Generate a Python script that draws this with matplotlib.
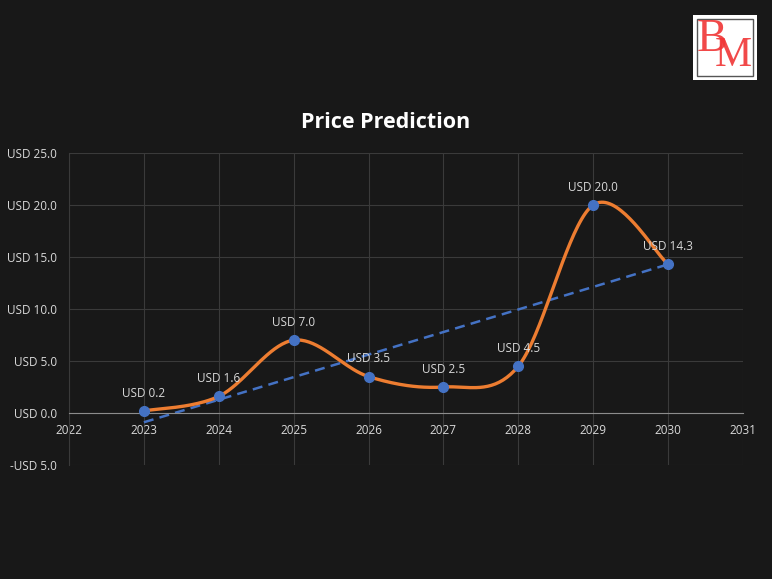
import numpy as np
import matplotlib
matplotlib.use('Agg')
from matplotlib import pyplot as plt
from matplotlib.patches import Rectangle

# chart data
years = [2023, 2024, 2025, 2026, 2027, 2028, 2029, 2030]
prices = [0.2, 1.6, 7.0, 3.5, 2.5, 4.5, 20.0, 14.3]
labels = ['USD 0.2', 'USD 1.6', 'USD 7.0', 'USD 3.5', 'USD 2.5', 'USD 4.5', 'USD 20.0', 'USD 14.3']
y_ticks = [-5, 0, 5, 10, 15, 20, 25]
x_ticks = list(range(2022, 2032))

bg = '#181818'
txt = '#d9d9d9'
plt.rcParams['font.family'] = ['Open Sans', 'DejaVu Sans']


def smooth(xs, ys, n=40):
    # excel-like smoothed line: bezier segments with catmull-rom tangents
    xs = np.asarray(xs, float)
    ys = np.asarray(ys, float)
    px, py = [], []
    for i in range(len(xs) - 1):
        p0 = (xs[max(i - 1, 0)], ys[max(i - 1, 0)])
        p1 = (xs[i], ys[i])
        p2 = (xs[i + 1], ys[i + 1])
        p3 = (xs[min(i + 2, len(xs) - 1)], ys[min(i + 2, len(xs) - 1)])
        c1 = (p1[0] + (p2[0] - p0[0]) / 6, p1[1] + (p2[1] - p0[1]) / 6)
        c2 = (p2[0] - (p3[0] - p1[0]) / 6, p2[1] - (p3[1] - p1[1]) / 6)
        t = np.linspace(0, 1, n)
        for a, b, c, d, out in [(p1[0], c1[0], c2[0], p2[0], px), (p1[1], c1[1], c2[1], p2[1], py)]:
            out.extend((1 - t) ** 3 * a + 3 * (1 - t) ** 2 * t * b + 3 * (1 - t) * t ** 2 * c + t ** 3 * d)
    return px, py


fig = plt.figure(figsize=(7.72, 5.79), dpi=100, facecolor=bg)
ax = fig.add_axes([0.0894, 0.1969, 0.8730, 0.5389], facecolor=bg)

ax.set_xlim(2022, 2031)
ax.set_ylim(-5, 25)
ax.set_xticks(x_ticks)
ax.set_yticks(y_ticks)
ax.set_yticklabels(['-USD 5.0'] + ['USD %.1f' % v for v in y_ticks[1:]])
ax.grid(True, color='#3a3a3a', linewidth=0.8)
ax.set_axisbelow(True)
for s in ['top', 'right']:
    ax.spines[s].set_visible(False)
ax.spines['bottom'].set_position(('data', 0))
ax.spines['bottom'].set_color('#8c8c8c')
ax.spines['left'].set_color('#3a3a3a')
ax.tick_params(length=0, colors=txt, labelsize=8.5)
ax.tick_params(axis='x', pad=8)
ax.tick_params(axis='y', pad=8.5)

# trendline
k, b = np.polyfit(years, prices, 1)
tx = np.array([years[0], years[-1]])
ax.plot(tx, k * tx + b, color='#4472c4', linestyle=(0, (4, 2.5)), linewidth=1.8, zorder=2)

sx, sy = smooth(years, prices)
ax.plot(sx, sy, color='#ed7d31', linewidth=2.4, zorder=3, solid_capstyle='round')
ax.plot(years, prices, 'o', color='#4472c4', markersize=7, zorder=4)

for x, y, l in zip(years, prices, labels):
    ax.annotate(l, (x, y), xytext=(0, 8), textcoords='offset points',
                ha='center', va='bottom', color=txt, fontsize=8.5, zorder=5)

fig.text(0.5, 0.788, 'Price Prediction', ha='center', va='center',
         color='white', fontsize=15.5, fontweight='bold')

# logo
fig.patches.append(Rectangle((693 / 772, 1 - 80 / 579), 64 / 772, 65 / 579,
                             transform=fig.transFigure, facecolor='white', edgecolor='none'))
fig.patches.append(Rectangle((697 / 772, 1 - 76 / 579), 56 / 772, 57 / 579,
                             transform=fig.transFigure, facecolor='white', edgecolor='#555555', linewidth=1))
fig.text(712 / 772, 1 - 40 / 579, 'B', color='#f03535', fontsize=33, family='Liberation Serif',
         ha='center', va='center', alpha=0.9)
fig.text(733 / 772, 1 - 56 / 579, 'M', color='#f03535', fontsize=30, family='Liberation Serif',
         ha='center', va='center', alpha=0.9)

fig.savefig('out.png', dpi=100, facecolor=bg)
